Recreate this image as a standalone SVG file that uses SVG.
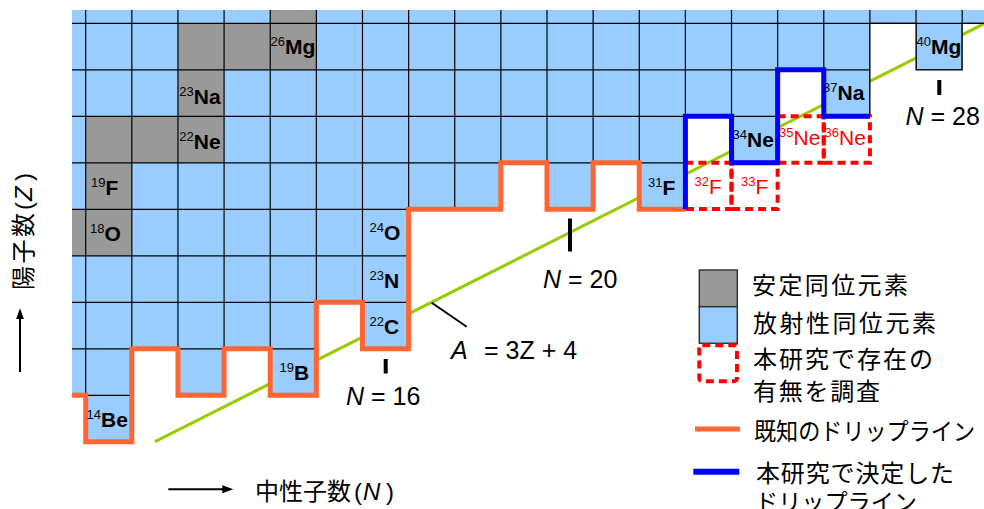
<svg xmlns="http://www.w3.org/2000/svg" width="984" height="509" viewBox="0 0 984 509">
<defs>
<style>
.lab{font-family:"Liberation Sans",Arial,sans-serif;font-weight:bold;font-size:21px;fill:#000}
.lab .s{font-size:13px;font-weight:normal}
.red{fill:#FF0000;font-weight:normal}
.ann{font-family:"Liberation Sans",Arial,sans-serif;font-size:25px;fill:#000}
.ax{font-family:"Liberation Sans",Arial,sans-serif;font-size:24px;fill:#000}
.cjk{font-family:"Noto Sans CJK JP","Noto Sans CJK SC",sans-serif;font-size:24px;fill:#000}
.gl line{stroke:#000;stroke-width:1.2}
.dash{fill:none;stroke:#FF0000;stroke-width:4;stroke-dasharray:8 5}
.tick{stroke:#000;stroke-width:4}
.stable{fill:#999999}
</style>
<clipPath id="view"><rect x="72" y="10" width="912" height="499"/></clipPath>
<clipPath id="region"><path d="M60,0 H1000 V23.3 H962.17 V69.8 H916.04 V23.3 H869.91 V116.3 H823.78 V69.8 H777.65 V162.8 H731.52 V116.3 H685.39 V209.3 H639.26 V162.8 H593.13 V209.3 H547 V162.8 H500.87 V209.3 H408.61 V348.8 H362.48 V302.3 H316.35 V395.3 H270.22 V348.8 H224.09 V395.3 H177.96 V348.8 H131.83 V441.8 H85.7 V395.3 H60 Z"/></clipPath>
<marker id="ah" markerWidth="12" markerHeight="8" refX="2" refY="4" orient="auto" markerUnits="userSpaceOnUse"><path d="M0,0 L11,4 L0,8 Z" fill="#000"/></marker>
</defs>
<rect width="984" height="509" fill="#fff"/>

<g id="line-A3Z4">
<line x1="155" y1="441.7" x2="990" y2="20.7" stroke="#99CC00" stroke-width="3"/>
</g>

<g id="chart" clip-path="url(#view)">
<path id="cells" d="M60,0 H1000 V23.3 H962.17 V69.8 H916.04 V23.3 H869.91 V116.3 H823.78 V69.8 H777.65 V162.8 H731.52 V116.3 H685.39 V209.3 H639.26 V162.8 H593.13 V209.3 H547 V162.8 H500.87 V209.3 H408.61 V348.8 H362.48 V302.3 H316.35 V395.3 H270.22 V348.8 H224.09 V395.3 H177.96 V348.8 H131.83 V441.8 H85.7 V395.3 H60 Z" fill="#99CCFF"/>
<g id="stable-cells">
<rect class="stable" x="270.22" y="-23.2" width="46.13" height="46.5"/>
<rect class="stable" x="177.96" y="23.3" width="138.39" height="46.5"/>
<rect class="stable" x="177.96" y="69.8" width="46.13" height="46.5"/>
<rect class="stable" x="85.7" y="116.3" width="138.39" height="46.5"/>
<rect class="stable" x="85.7" y="162.8" width="46.13" height="46.5"/>
<rect class="stable" x="39.57" y="209.3" width="92.26" height="46.5"/>
</g>
<g id="gridlines" class="gl" clip-path="url(#region)">
<line x1="85.7" y1="0" x2="85.7" y2="445"/>
<line x1="131.83" y1="0" x2="131.83" y2="445"/>
<line x1="177.96" y1="0" x2="177.96" y2="445"/>
<line x1="224.09" y1="0" x2="224.09" y2="445"/>
<line x1="270.22" y1="0" x2="270.22" y2="445"/>
<line x1="316.35" y1="0" x2="316.35" y2="445"/>
<line x1="362.48" y1="0" x2="362.48" y2="445"/>
<line x1="408.61" y1="0" x2="408.61" y2="445"/>
<line x1="454.74" y1="0" x2="454.74" y2="445"/>
<line x1="500.87" y1="0" x2="500.87" y2="445"/>
<line x1="547" y1="0" x2="547" y2="445"/>
<line x1="593.13" y1="0" x2="593.13" y2="445"/>
<line x1="639.26" y1="0" x2="639.26" y2="445"/>
<line x1="685.39" y1="0" x2="685.39" y2="445"/>
<line x1="731.52" y1="0" x2="731.52" y2="445"/>
<line x1="777.65" y1="0" x2="777.65" y2="445"/>
<line x1="823.78" y1="0" x2="823.78" y2="445"/>
<line x1="869.91" y1="0" x2="869.91" y2="445"/>
<line x1="916.04" y1="0" x2="916.04" y2="445"/>
<line x1="962.17" y1="0" x2="962.17" y2="445"/>
<line x1="60" y1="23.3" x2="1000" y2="23.3"/>
<line x1="60" y1="69.8" x2="1000" y2="69.8"/>
<line x1="60" y1="116.3" x2="1000" y2="116.3"/>
<line x1="60" y1="162.8" x2="1000" y2="162.8"/>
<line x1="60" y1="209.3" x2="1000" y2="209.3"/>
<line x1="60" y1="255.8" x2="1000" y2="255.8"/>
<line x1="60" y1="302.3" x2="1000" y2="302.3"/>
<line x1="60" y1="348.8" x2="1000" y2="348.8"/>
<line x1="60" y1="395.3" x2="1000" y2="395.3"/>
</g>
<path id="cells-outline" d="M1000,23.3 H962.17 V69.8 H916.04 V23.3 H869.91 V116.3 H823.78 V69.8 H777.65 V162.8 H731.52 V116.3 H685.39 V209.3 H639.26 V162.8 H593.13 V209.3 H547 V162.8 H500.87 V209.3 H408.61 V348.8 H362.48 V302.3 H316.35 V395.3 H270.22 V348.8 H224.09 V395.3 H177.96 V348.8 H131.83 V441.8 H85.7 V395.3 H60" fill="none" stroke="#000" stroke-width="1.2"/>
</g>

<g id="investigated">
<rect class="dash" x="685.39" y="162.8" width="46.13" height="46.3"/>
<rect class="dash" x="731.52" y="162.8" width="46.13" height="46.3"/>
<rect class="dash" x="777.65" y="116.3" width="46.13" height="46.5"/>
<rect class="dash" x="823.78" y="116.3" width="46.13" height="46.5"/>
</g>

<g id="connectors">
<path id="known-dripline" d="M72,395.3 H85.7 V441.8 H131.83 V348.8 H177.96 V395.3 H224.09 V348.8 H270.22 V395.3 H316.35 V302.3 H362.48 V348.8 H408.61 V209.3 H500.87 V162.8 H547 V209.3 H593.13 V162.8 H639.26 V209.3 H685.39" fill="none" stroke="#FF6633" stroke-width="5" stroke-linejoin="miter"/>
<path id="new-dripline" d="M685.39,209.3 V116.3 H731.52 V162.8 H777.65 V69.8 H823.78 V116.3 H869.91" fill="none" stroke="#0000FF" stroke-width="5" stroke-linejoin="miter"/>
</g>

<g id="labels">
<g id="n-26Mg"><text class="lab" x="270.5" y="53.5"><tspan class="s" dy="-8">26</tspan><tspan dy="8">Mg</tspan></text></g>
<g id="n-23Na"><text class="lab" x="179.3" y="103.5"><tspan class="s" dy="-8">23</tspan><tspan dy="8">Na</tspan></text></g>
<g id="n-22Ne"><text class="lab" x="179.3" y="148.5"><tspan class="s" dy="-8">22</tspan><tspan dy="8">Ne</tspan></text></g>
<g id="n-19F"><text class="lab" x="91" y="195"><tspan class="s" dy="-8">19</tspan><tspan dy="8">F</tspan></text></g>
<g id="n-18O"><text class="lab" x="90" y="240.5"><tspan class="s" dy="-8">18</tspan><tspan dy="8">O</tspan></text></g>
<g id="n-14Be"><text class="lab" x="86.5" y="426.5"><tspan class="s" dy="-8">14</tspan><tspan dy="8">Be</tspan></text></g>
<g id="n-19B"><text class="lab" x="279.5" y="380"><tspan class="s" dy="-8">19</tspan><tspan dy="8">B</tspan></text></g>
<g id="n-24O"><text class="lab" x="369.5" y="240"><tspan class="s" dy="-8">24</tspan><tspan dy="8">O</tspan></text></g>
<g id="n-23N"><text class="lab" x="369.5" y="287.5"><tspan class="s" dy="-8">23</tspan><tspan dy="8">N</tspan></text></g>
<g id="n-22C"><text class="lab" x="369.5" y="333.5"><tspan class="s" dy="-8">22</tspan><tspan dy="8">C</tspan></text></g>
<g id="n-31F"><text class="lab" x="648" y="194.5"><tspan class="s" dy="-8">31</tspan><tspan dy="8">F</tspan></text></g>
<g id="n-34Ne"><text class="lab" x="732.5" y="146.5"><tspan class="s" dy="-8">34</tspan><tspan dy="8">Ne</tspan></text></g>
<g id="n-37Na"><text class="lab" x="823" y="100"><tspan class="s" dy="-8">37</tspan><tspan dy="8">Na</tspan></text></g>
<g id="n-40Mg"><text class="lab" x="916.5" y="53.5"><tspan class="s" dy="-8">40</tspan><tspan dy="8">Mg</tspan></text></g>
<g id="n-32F"><text class="lab red" x="694.5" y="193.5"><tspan class="s" dy="-8">32</tspan><tspan dy="8">F</tspan></text></g>
<g id="n-33F"><text class="lab red" x="741" y="193.5"><tspan class="s" dy="-8">33</tspan><tspan dy="8">F</tspan></text></g>
<g id="n-35Ne"><text class="lab red" x="779" y="145"><tspan class="s" dy="-8">35</tspan><tspan dy="8">Ne</tspan></text></g>
<g id="n-36Ne"><text class="lab red" x="824.5" y="145"><tspan class="s" dy="-8">36</tspan><tspan dy="8">Ne</tspan></text></g>
</g>

<g id="annotations">
<line class="tick" x1="385.7" y1="359" x2="385.7" y2="373.5"/>
<text class="ann" x="346" y="405"><tspan font-style="italic">N</tspan> = 16</text>
<line class="tick" x1="570" y1="218.5" x2="570" y2="251.5"/>
<text class="ann" x="543" y="287.5"><tspan font-style="italic">N</tspan> = 20</text>
<line class="tick" x1="939.3" y1="80" x2="939.3" y2="95"/>
<text class="ann" x="905.5" y="125"><tspan font-style="italic">N</tspan> = 28</text>
<line x1="431.7" y1="302.7" x2="466.7" y2="326.7" stroke="#000" stroke-width="2"/>
<text class="ann" x="451" y="359"><tspan font-style="italic">A</tspan><tspan x="484">= 3Z + 4</tspan></text>
</g>

<g id="legend">
<rect x="699.3" y="270" width="38" height="36.7" fill="#999999" stroke="#333" stroke-width="1.5"/>
<rect x="699.3" y="306.7" width="38" height="36.6" fill="#99CCFF" stroke="#333" stroke-width="1.5"/>
<rect class="dash" x="699.3" y="345.3" width="37.7" height="36" rx="3"/>
<line x1="695" y1="429" x2="740" y2="429" stroke="#FF6633" stroke-width="5"/>
<line x1="693.3" y1="471.7" x2="739.3" y2="471.7" stroke="#0000FF" stroke-width="6"/>
<text class="cjk" x="752" y="293.5" textLength="156" lengthAdjust="spacing">安定同位元素</text>
<text class="cjk" x="753" y="331.5" textLength="183" lengthAdjust="spacing">放射性同位元素</text>
<text class="cjk" x="753" y="368" textLength="180" lengthAdjust="spacing">本研究で存在の</text>
<text class="cjk" x="753" y="400" textLength="127" lengthAdjust="spacing">有無を調査</text>
<text class="cjk" x="754" y="440" textLength="221" lengthAdjust="spacingAndGlyphs">既知のドリップライン</text>
<text class="cjk" x="756" y="481.5" textLength="198" lengthAdjust="spacing">本研究で決定した</text>
<text class="cjk" x="755" y="511" textLength="162" lengthAdjust="spacingAndGlyphs">ドリップライン</text>
</g>

<g id="axes">
<line x1="168.3" y1="489.3" x2="224.3" y2="489.3" stroke="#000" stroke-width="2" marker-end="url(#ah)"/>
<text class="cjk" x="255" y="499.5">中性子数</text>
<text class="ax" y="499.5"><tspan x="354">(</tspan><tspan x="363" font-style="italic">N</tspan><tspan x="386">)</tspan></text>
<line x1="20" y1="372" x2="20" y2="317.3" stroke="#000" stroke-width="2" marker-end="url(#ah)"/>
<g transform="translate(31.5,290) rotate(-90)">
<text class="cjk" x="0" y="0" textLength="77" lengthAdjust="spacing">陽子数</text>
<text class="ax" y="0"><tspan x="80">(</tspan><tspan x="89" font-style="italic">Z</tspan><tspan x="109">)</tspan></text>
</g>
</g>
</svg>
